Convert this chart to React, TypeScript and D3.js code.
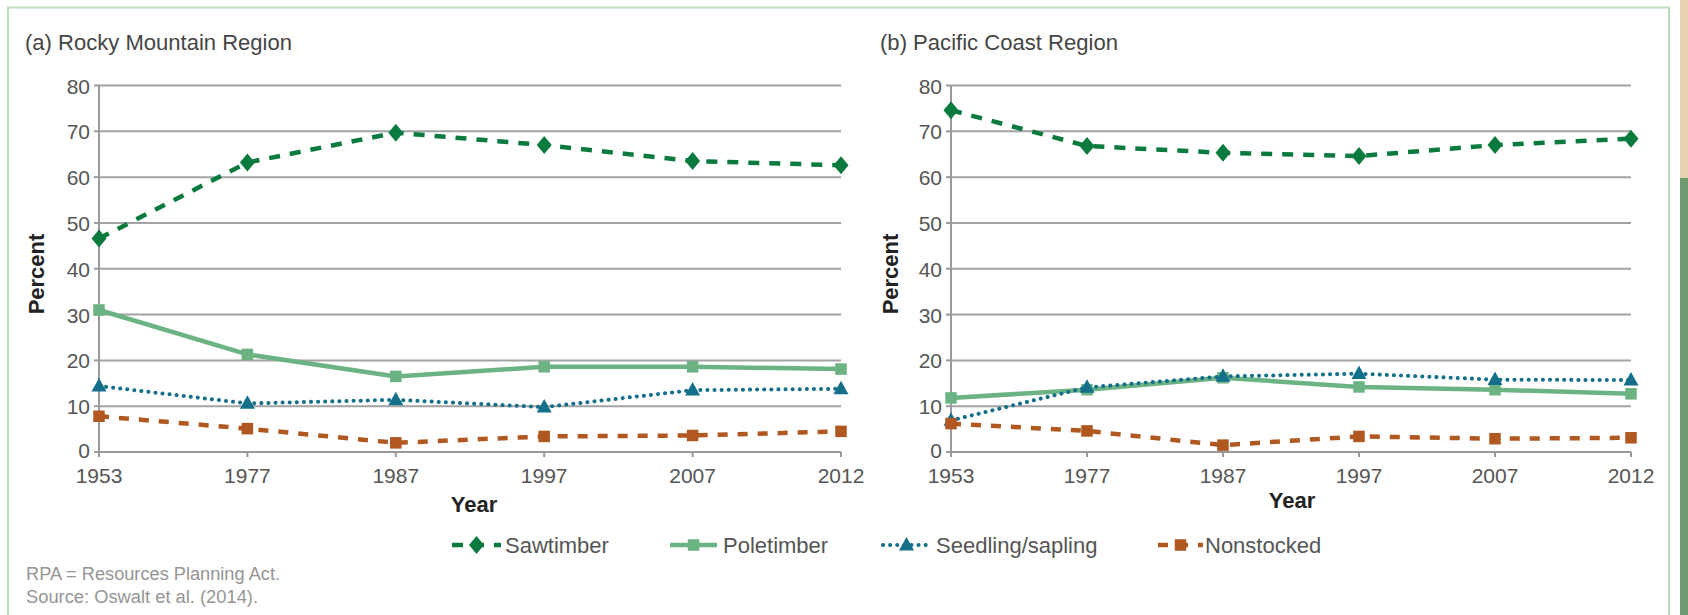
import React from 'react';
import * as d3 from 'd3';

// ---------- data ----------
const years = ['1953', '1977', '1987', '1997', '2007', '2012'];
const yTicks = [0, 10, 20, 30, 40, 50, 60, 70, 80];

const rockySawtimber = [46.6, 63.2, 69.7, 67.0, 63.5, 62.6];
const rockyPoletimber = [31.0, 21.3, 16.5, 18.6, 18.6, 18.1];
const rockySeedling = [14.4, 10.6, 11.4, 9.8, 13.5, 13.8];
const rockyNonstocked = [7.8, 5.1, 2.0, 3.4, 3.6, 4.5];

const pacificSawtimber = [74.6, 66.8, 65.3, 64.6, 67.0, 68.4];
const pacificPoletimber = [11.8, 13.6, 16.2, 14.2, 13.6, 12.7];
const pacificSeedling = [6.9, 14.1, 16.5, 17.1, 15.8, 15.7];
const pacificNonstocked = [6.2, 4.6, 1.5, 3.4, 2.9, 3.1];

const seriesNames = ['Sawtimber', 'Poletimber', 'Seedling/sapling', 'Nonstocked'];
const panelTitles = ['(a) Rocky Mountain Region', '(b) Pacific Coast Region'];
const footnotes = ['RPA = Resources Planning Act.', 'Source: Oswalt et al. (2014).'];
const yAxisTitle = 'Percent';
const xAxisTitle = 'Year';

// ---------- styles ----------
const FONT = 'Liberation Sans, Arial, Helvetica, sans-serif';
type Style = { color: string; dash: string; cap: 'butt' | 'round'; width: number; marker: 'diamond' | 'square' | 'triangle' };
const styles: Style[] = [
  { color: '#0b7a3e', dash: '11 10', cap: 'butt', width: 4.5, marker: 'diamond' },
  { color: '#6cb384', dash: '', cap: 'butt', width: 4.5, marker: 'square' },
  { color: '#14708a', dash: '0.1 7', cap: 'round', width: 4, marker: 'triangle' },
  { color: '#b0581f', dash: '10 10', cap: 'butt', width: 4.5, marker: 'square' },
];

function Marker({ kind, cx, cy, color }: { kind: string; cx: number; cy: number; color: string }) {
  if (kind === 'diamond') {
    const w = 7.5, h = 9;
    return <path d={`M${cx},${cy - h}L${cx + w},${cy}L${cx},${cy + h}L${cx - w},${cy}Z`} fill={color} />;
  }
  if (kind === 'triangle') {
    const w = 7.5, h = 13.5;
    return <path d={`M${cx},${cy - h * 0.6}L${cx + w},${cy + h * 0.4}L${cx - w},${cy + h * 0.4}Z`} fill={color} />;
  }
  const s = 11.5;
  return <rect x={cx - s / 2} y={cy - s / 2} width={s} height={s} fill={color} />;
}

function Panel({ left, right, title, titleX, titleLen, percentX, yearX, yearY, series }: {
  left: number; right: number; title: string; titleX: number; titleLen: number;
  percentX: number; yearX: number; yearY: number; series: number[][];
}) {
  const x = d3.scalePoint<string>().domain(years).range([left, right]);
  const y = d3.scaleLinear().domain([0, 80]).range([452, 85.5]);
  const line = d3.line<number>().x((_, i) => x(years[i]) as number).y((d) => y(d));
  const grid = '#a3a3a3';
  return (
    <g>
      <text x={titleX} y={50} fontFamily={FONT} fontSize={22} fill="#454545" textLength={titleLen} lengthAdjust="spacingAndGlyphs">{title}</text>
      {yTicks.filter((t) => t > 0).map((t) => (
        <line key={t} x1={left} x2={right} y1={y(t)} y2={y(t)} stroke={grid} strokeWidth={2} />
      ))}
      <line x1={left} x2={right} y1={y(0)} y2={y(0)} stroke="#9a9a9a" strokeWidth={2} />
      <line x1={left} x2={left} y1={y(80)} y2={y(0) + 5} stroke="#9a9a9a" strokeWidth={2} />
      {yTicks.map((t) => (
        <g key={t}>
          <line x1={left - 5} x2={left} y1={y(t)} y2={y(t)} stroke="#9a9a9a" strokeWidth={2} />
          <text x={left - 9} y={y(t) + (t === 0 ? 6 : 8)} textAnchor="end" fontFamily={FONT} fontSize={21} fill="#555">{t}</text>
        </g>
      ))}
      {years.map((yr) => (
        <g key={yr}>
          <line x1={x(yr)} x2={x(yr)} y1={y(0)} y2={y(0) + 5} stroke="#9a9a9a" strokeWidth={2} />
          <text x={x(yr)} y={483} textAnchor="middle" fontFamily={FONT} fontSize={21} fill="#555">{yr}</text>
        </g>
      ))}
      <text transform={`translate(${percentX},274) rotate(-90)`} textAnchor="middle" fontFamily={FONT} fontSize={22} fontWeight="bold" fill="#222">{yAxisTitle}</text>
      <text x={yearX} y={yearY} textAnchor="middle" fontFamily={FONT} fontSize={22} fontWeight="bold" fill="#222">{xAxisTitle}</text>
      {series.map((vals, si) => {
        const st = styles[si];
        return (
          <g key={si}>
            <path d={line(vals) as string} fill="none" stroke={st.color} strokeWidth={st.width}
              strokeDasharray={st.dash || undefined} strokeLinecap={st.cap} strokeLinejoin="round" />
            {vals.map((v, i) => (
              <Marker key={i} kind={st.marker} cx={x(years[i]) as number} cy={y(v)} color={st.color} />
            ))}
          </g>
        );
      })}
    </g>
  );
}

const legendPos = [
  { x0: 452, x1: 501, tx: 505 },
  { x0: 670, x1: 717, tx: 723 },
  { x0: 883, x1: 930, tx: 936 },
  { x0: 1158, x1: 1203, tx: 1205 },
];

export default function App() {
  const ly = 545;
  return (
    <svg width={1688} height={615} style={{ position: 'absolute', left: 0, top: 0, background: '#fff' }}>
      <rect x={0} y={0} width={1688} height={615} fill="#fff" />
      {/* page background strip at right edge */}
      <rect x={1680} y={0} width={8} height={178} fill="#e8d3b3" />
      <rect x={1680} y={178} width={8} height={437} fill="#6e9b72" />
      {/* frame */}
      <rect x={8} y={7.5} width={1661} height={700} fill="none" stroke="#bcdbbf" strokeWidth={2} />
      <Panel left={99} right={841} title={panelTitles[0]} titleX={25} titleLen={267} percentX={44}
        yearX={474} yearY={512} series={[rockySawtimber, rockyPoletimber, rockySeedling, rockyNonstocked]} />
      <Panel left={951} right={1631} title={panelTitles[1]} titleX={880} titleLen={238} percentX={898}
        yearX={1292} yearY={508} series={[pacificSawtimber, pacificPoletimber, pacificSeedling, pacificNonstocked]} />
      {seriesNames.map((name, i) => {
        const st = styles[i];
        const p = legendPos[i];
        return (
          <g key={name}>
            <line x1={p.x0} x2={p.x1} y1={ly} y2={ly} stroke={st.color} strokeWidth={st.width}
              strokeDasharray={st.dash || undefined} strokeLinecap={st.cap} />
            <Marker kind={st.marker} cx={(p.x0 + p.x1) / 2} cy={ly} color={st.color} />
            <text x={p.tx} y={ly + 8} fontFamily={FONT} fontSize={22} fill="#555">{name}</text>
          </g>
        );
      })}
      <text x={26} y={580} fontFamily={FONT} fontSize={18} fill="#959595" textLength={254} lengthAdjust="spacingAndGlyphs">{footnotes[0]}</text>
      <text x={26} y={603} fontFamily={FONT} fontSize={18} fill="#959595" textLength={232} lengthAdjust="spacingAndGlyphs">{footnotes[1]}</text>
    </svg>
  );
}
